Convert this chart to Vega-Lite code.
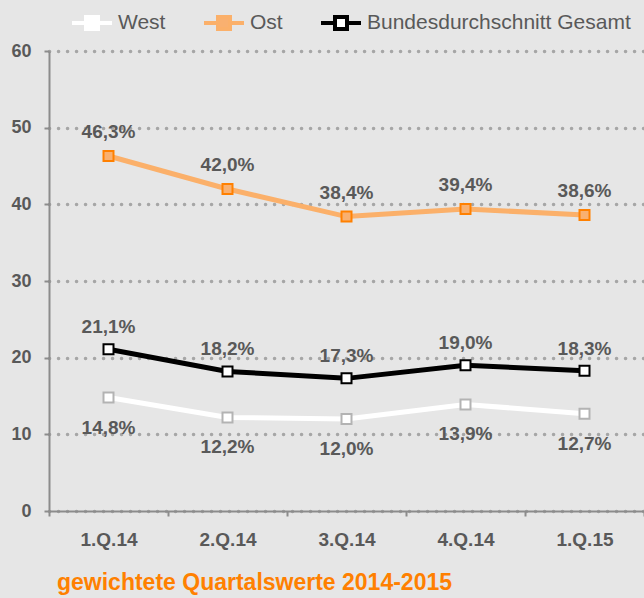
{
  "$schema": "https://vega.github.io/schema/vega-lite/v6.json",
  "width": 595,
  "height": 460,
  "autosize": {"type": "none"},
  "padding": {"left": 49, "top": 51, "right": 0, "bottom": 87},
  "background": "#e6e6e6",
  "config": {"view": {"stroke": null}, "font": "Liberation Sans"},
  "title": {
    "text": "gewichtete Quartalswerte 2014-2015",
    "orient": "bottom",
    "anchor": "start",
    "frame": "group",
    "dx": 8,
    "offset": 23,
    "color": "#ff8000",
    "fontSize": 23,
    "fontWeight": "bold",
    "font": "Liberation Sans"
  },
  "data": {
    "values": [
      {"quarter": "1.Q.14", "series": "West", "value": 14.8, "label": "14,8%"},
      {"quarter": "2.Q.14", "series": "West", "value": 12.2, "label": "12,2%"},
      {"quarter": "3.Q.14", "series": "West", "value": 12.0, "label": "12,0%"},
      {"quarter": "4.Q.14", "series": "West", "value": 13.9, "label": "13,9%"},
      {"quarter": "1.Q.15", "series": "West", "value": 12.7, "label": "12,7%"},
      {"quarter": "1.Q.14", "series": "Ost", "value": 46.3, "label": "46,3%"},
      {"quarter": "2.Q.14", "series": "Ost", "value": 42.0, "label": "42,0%"},
      {"quarter": "3.Q.14", "series": "Ost", "value": 38.4, "label": "38,4%"},
      {"quarter": "4.Q.14", "series": "Ost", "value": 39.4, "label": "39,4%"},
      {"quarter": "1.Q.15", "series": "Ost", "value": 38.6, "label": "38,6%"},
      {"quarter": "1.Q.14", "series": "Bundesdurchschnitt Gesamt", "value": 21.1, "label": "21,1%"},
      {"quarter": "2.Q.14", "series": "Bundesdurchschnitt Gesamt", "value": 18.2, "label": "18,2%"},
      {"quarter": "3.Q.14", "series": "Bundesdurchschnitt Gesamt", "value": 17.3, "label": "17,3%"},
      {"quarter": "4.Q.14", "series": "Bundesdurchschnitt Gesamt", "value": 19.0, "label": "19,0%"},
      {"quarter": "1.Q.15", "series": "Bundesdurchschnitt Gesamt", "value": 18.3, "label": "18,3%"}
    ]
  },
  "encoding": {
    "x": {
      "field": "quarter",
      "type": "ordinal",
      "scale": {"type": "band", "domain": ["1.Q.14", "2.Q.14", "3.Q.14", "4.Q.14", "1.Q.15"], "paddingInner": 0, "paddingOuter": 0},
      "axis": {
        "title": null,
        "labelAngle": 0,
        "tickBand": "extent",
        "grid": false,
        "domainColor": "#8c8c8c",
        "domainWidth": 2,
        "tickColor": "#8c8c8c",
        "tickSize": 5,
        "tickWidth": 2,
        "labelFontSize": 19,
        "labelFontWeight": "bold",
        "labelColor": "#595959",
        "labelPadding": 14
      }
    },
    "y": {
      "field": "value",
      "type": "quantitative",
      "scale": {"domain": [0, 60], "nice": false},
      "axis": {
        "title": null,
        "values": [0, 10, 20, 30, 40, 50, 60],
        "grid": true,
        "gridColor": "#a6a6a6",
        "gridDash": [0.1, 8.9],
        "gridCap": "round",
        "gridWidth": 3.5,
        "domainColor": "#8c8c8c",
        "domainWidth": 2,
        "tickColor": "#8c8c8c",
        "tickSize": 5,
        "tickWidth": 2,
        "labelFontSize": 18,
        "labelFontWeight": "bold",
        "labelColor": "#595959",
        "labelPadding": 13
      }
    }
  },
  "layer": [
    {
      "mark": {"type": "line", "strokeWidth": 5},
      "encoding": {
        "color": {
          "field": "series",
          "type": "nominal",
          "scale": {"domain": ["West", "Ost", "Bundesdurchschnitt Gesamt"], "range": ["#ffffff", "#fbb06a", "#000000"]},
          "legend": {
            "orient": "none",
            "legendX": 21,
            "legendY": -50,
            "direction": "horizontal",
            "title": null,
            "padding": 0,
            "symbolType": "M-1,0H-0.3M0.3,0H1M-0.3,-0.3H0.3V0.3H-0.3Z",
            "symbolSize": 1600,
            "symbolStrokeWidth": 4,
            "labelFontSize": 21,
            "labelColor": "#595959",
            "labelOffset": 4,
            "labelLimit": 400,
            "columnPadding": 30,
            "encode": {
              "symbols": {
                "update": {
                  "fill": {"signal": "datum.value === 'Ost' ? '#f9b070' : '#ffffff'"},
                  "fillOpacity": {"value": 1}
                }
              }
            }
          }
        }
      }
    },
    {
      "mark": {"type": "point", "shape": "square", "filled": true, "size": 100, "strokeWidth": 2, "opacity": 1, "fillOpacity": 1},
      "encoding": {
        "fill": {
          "field": "series",
          "type": "nominal",
          "scale": {"domain": ["West", "Ost", "Bundesdurchschnitt Gesamt"], "range": ["#ffffff", "#f9b070", "#ffffff"]},
          "legend": null
        },
        "stroke": {
          "field": "series",
          "type": "nominal",
          "scale": {"domain": ["West", "Ost", "Bundesdurchschnitt Gesamt"], "range": ["#b3b3b3", "#ff8000", "#000000"]},
          "legend": null
        }
      }
    },
    {
      "transform": [{"filter": "datum.series === 'West'"}],
      "mark": {"type": "text", "dy": 30, "baseline": "middle", "fontSize": 19, "fontWeight": "bold", "color": "#595959"},
      "encoding": {"text": {"field": "label"}}
    },
    {
      "transform": [{"filter": "datum.series === 'Ost'"}],
      "mark": {"type": "text", "dy": -24, "baseline": "middle", "fontSize": 19, "fontWeight": "bold", "color": "#595959"},
      "encoding": {"text": {"field": "label"}}
    },
    {
      "transform": [{"filter": "datum.series === 'Bundesdurchschnitt Gesamt'"}],
      "mark": {"type": "text", "dy": -22, "baseline": "middle", "fontSize": 19, "fontWeight": "bold", "color": "#595959"},
      "encoding": {"text": {"field": "label"}}
    }
  ]
}
